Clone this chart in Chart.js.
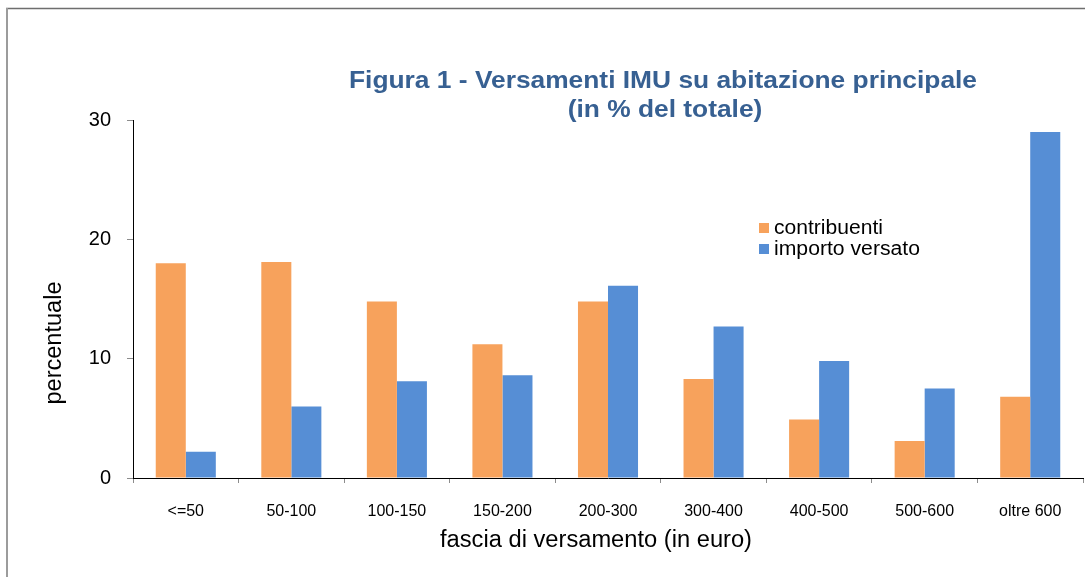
<!DOCTYPE html>
<html><head><meta charset="utf-8">
<script src="https://cdn.jsdelivr.net/npm/chart.js@4/dist/chart.umd.min.js"></script>
<style>html,body{margin:0;padding:0;background:#fff;overflow:hidden}#wrap{width:1085px;height:577px;position:relative}canvas{display:block}</style>
</head><body><div id="wrap"><canvas id="c" width="1085" height="577"></canvas></div>
<script>
const categories = ['<=50', '50-100', '100-150', '150-200', '200-300', '300-400', '400-500', '500-600', 'oltre 600'];
const contribuenti = [18.0, 18.1, 14.8, 11.2, 14.8, 8.3, 4.9, 3.1, 6.8];
const importoVersato = [2.2, 6.0, 8.1, 8.6, 16.1, 12.7, 9.8, 7.5, 29.0];
const yTickValues = [0, 10, 20, 30];
const seriesNames = ['contribuenti', 'importo versato'];
const titleLines = ['Figura 1 - Versamenti IMU su abitazione principale', '(in % del totale)'];
const xTitle = 'fascia di versamento (in euro)';
const yTitle = 'percentuale';

const ORANGE = '#F7A25C';
const BLUE = '#568ED5';
const TITLE_COLOR = '#376092';
const FONT = '"Liberation Sans", Arial, sans-serif';

function drawStretched(ctx, text, x, y, targetWidth, align) {
  const w = ctx.measureText(text).width;
  const s = targetWidth ? targetWidth / w : 1;
  ctx.save();
  ctx.translate(x, y);
  ctx.scale(s, 1);
  ctx.textAlign = align;
  ctx.fillText(text, 0, 0);
  ctx.restore();
  return s;
}

const decorPlugin = {
  id: 'decor',
  beforeDraw(chart) {
    const ctx = chart.ctx;
    ctx.save();
    ctx.fillStyle = '#ffffff';
    ctx.fillRect(0, 0, chart.width, chart.height);
    ctx.strokeStyle = '#6e6e6e';
    ctx.lineWidth = 1.5;
    ctx.beginPath(); ctx.moveTo(6, 8.5); ctx.lineTo(chart.width, 8.5); ctx.stroke();
    ctx.strokeStyle = '#9c9c9c';
    ctx.lineWidth = 2;
    ctx.beginPath(); ctx.moveTo(7, 8); ctx.lineTo(7, chart.height); ctx.stroke();
    ctx.restore();
  },
  afterDraw(chart) {
    const ctx = chart.ctx;
    ctx.save();
    // Title
    ctx.fillStyle = TITLE_COLOR;
    ctx.font = 'bold 24px ' + FONT;
    ctx.textBaseline = 'alphabetic';
    const s = drawStretched(ctx, titleLines[0], 663, 88, 628, 'center');
    const w2 = ctx.measureText(titleLines[1]).width * s;
    drawStretched(ctx, titleLines[1], 665, 117, w2, 'center');

    // Legend
    ctx.font = '20px ' + FONT;
    const ds = chart.data.datasets;
    const legendY = [223, 244];
    const legendW = [109, 146];
    ds.forEach((d, i) => {
      ctx.fillStyle = d.backgroundColor;
      ctx.fillRect(759, legendY[i], 10, 10);
      ctx.fillStyle = '#000';
      drawStretched(ctx, d.label, 774, legendY[i] + 11, legendW[i], 'left');
    });

    // Axis titles
    ctx.font = '23px ' + FONT;
    ctx.fillStyle = '#000';
    drawStretched(ctx, xTitle, 596, 547, 312, 'center');
    ctx.save();
    ctx.translate(55, 343);
    ctx.rotate(-Math.PI / 2);
    ctx.textBaseline = 'middle';
    drawStretched(ctx, yTitle, 0, 0, 123, 'center');
    ctx.restore();
    ctx.restore();
  }
};

new Chart(document.getElementById('c'), {
  type: 'bar',
  data: {
    labels: categories,
    datasets: [
      { label: seriesNames[0], data: contribuenti, backgroundColor: ORANGE, borderWidth: 0 },
      { label: seriesNames[1], data: importoVersato, backgroundColor: BLUE, borderWidth: 0 }
    ]
  },
  options: {
    responsive: false,
    animation: false,
    devicePixelRatio: 1,
    categoryPercentage: 0.569,
    barPercentage: 1.0,
    layout: { padding: { top: 120, right: 2, left: 0, bottom: 0 } },
    plugins: { legend: { display: false }, title: { display: false }, tooltip: { enabled: false } },
    scales: {
      x: {
        offset: true,
        grid: { offset: true, drawOnChartArea: false, drawTicks: true, tickLength: 5, tickColor: '#8c8c8c' },
        border: { display: true, color: '#000', width: 1 },
        ticks: { color: '#000', font: { family: FONT, size: 16 }, padding: 19, maxRotation: 0, autoSkip: false },
        afterFit(scale) { scale.height = 99; }
      },
      y: {
        min: 0, max: 30,
        grid: { drawOnChartArea: false, drawTicks: true, tickLength: 6, tickColor: '#8c8c8c' },
        border: { display: true, color: '#000', width: 1 },
        ticks: { color: '#000', font: { family: FONT, size: 20 }, padding: 16 },
        afterBuildTicks(scale) { scale.ticks = yTickValues.map(v => ({ value: v })); },
        afterFit(scale) { scale.width = 133; }
      }
    }
  },
  plugins: [decorPlugin]
});
</script>
</body></html>
